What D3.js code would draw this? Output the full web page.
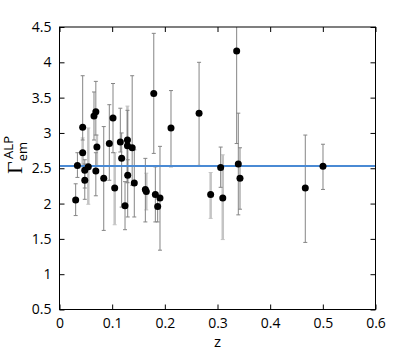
<!DOCTYPE html>
<html><head><meta charset="utf-8">
<script src="https://cdn.jsdelivr.net/npm/d3@7"></script>
<style>body{margin:0;background:#fff}svg{display:block}text{font-family:"Open Sans",sans-serif}</style>
</head><body><svg id="c" width="415" height="354"></svg>
<script>
// Series A (thin dark error bars): z, value, lower, upper
const zA   = [0.0307,0.034,0.044,0.048,0.048,0.0655,0.069,0.069,0.084,0.0946,0.1016,0.1155,0.118,0.1244,0.129,0.1295,0.138,0.142,0.163,0.179,0.182,0.1864,0.1908,0.2117,0.265,0.306,0.3364,0.3395,0.3427,0.4667,0.5003];
const vA   = [2.05,2.54,3.08,2.47,2.33,3.24,3.30,2.46,2.36,2.85,3.21,2.87,2.64,1.97,2.82,2.40,2.79,2.29,2.20,3.56,2.13,1.96,2.08,3.07,3.28,2.51,4.16,2.56,2.36,2.22,2.53];
const loA  = [1.83,2.37,2.90,2.22,2.06,2.90,2.97,2.11,1.62,2.33,2.72,2.73,1.95,1.63,2.30,1.81,2.26,1.81,1.74,2.71,1.74,1.74,1.34,2.52,2.54,2.23,2.85,1.84,1.92,1.45,2.20];
const hiA  = [2.28,2.72,3.81,2.62,2.56,3.58,3.73,2.72,3.09,3.40,3.70,3.35,3.00,2.31,3.32,2.62,3.81,2.76,2.64,4.41,2.52,2.10,2.81,3.60,4.00,2.80,5.00,3.28,2.79,2.97,2.84];
// Series B (wider light error bars)
const zB   = [0.044,0.0547,0.071,0.1048,0.129,0.1648,0.287,0.31];
const vB   = [2.72,2.52,2.80,2.22,2.90,2.17,2.13,2.08];
const loB  = [2.46,1.99,2.54,1.70,2.29,1.91,1.79,1.49];
const hiB  = [2.93,3.07,2.97,2.72,3.38,2.43,2.44,2.69];
const meanLine = 2.533;
const xTicks = [0,0.1,0.2,0.3,0.4,0.5,0.6];
const yTicks = [0.5,1,1.5,2,2.5,3,3.5,4,4.5];
const xDomain = [0,0.6], yDomain = [0.5,4.5];

const svg = d3.select("#c");
const L=59.5,R=375.5,T=27,B=309.5;
const x = d3.scaleLinear().domain(xDomain).range([L,R]);
const y = d3.scaleLinear().domain(yDomain).range([B,T]);

svg.append("defs").append("clipPath").attr("id","clip")
  .append("rect").attr("x",L).attr("y",T).attr("width",R-L).attr("height",B-T);
const g = svg.append("g").attr("clip-path","url(#clip)");

function bars(zs,vs,lo,hi,color,w,cap){
  const gg=g.append("g").attr("stroke",color).attr("stroke-width",w).attr("fill","none");
  zs.forEach((z,i)=>{
    gg.append("line").attr("x1",x(z)).attr("x2",x(z)).attr("y1",y(lo[i])).attr("y2",y(hi[i]));
    [lo[i],hi[i]].forEach(v=>gg.append("line").attr("stroke-width",1)
      .attr("x1",x(z)-cap).attr("x2",x(z)+cap).attr("y1",y(v)).attr("y2",y(v)));
  });
}
bars(zB,vB,loB,hiB,"#c4c4c4",2.5,2);
bars(zA,vA,loA,hiA,"#858585",1,2);

g.append("line").attr("x1",L).attr("x2",R).attr("y1",y(meanLine)).attr("y2",y(meanLine))
  .attr("stroke","#4a8ad4").attr("stroke-width",2);

const dots=[...zA.map((z,i)=>[z,vA[i]]),...zB.map((z,i)=>[z,vB[i]])];
g.selectAll("circle").data(dots).join("circle")
  .attr("cx",d=>x(d[0])).attr("cy",d=>y(d[1])).attr("r",3.5).attr("fill","#000");

// axes
function styleAx(a){a.select(".domain").remove();a.selectAll("line").attr("stroke","#000");
  a.selectAll("text").attr("font-size",14).attr("fill","#000").attr("font-family","'Open Sans',sans-serif");}
svg.append("g").attr("transform",`translate(0,${B})`)
  .call(d3.axisBottom(x).tickValues(xTicks).tickFormat(d3.format("~g")).tickSizeInner(-5).tickSizeOuter(0).tickPadding(9)).call(styleAx);
svg.append("g").attr("transform",`translate(0,${T})`)
  .call(d3.axisTop(x).tickValues(xTicks).tickFormat("").tickSizeInner(-5).tickSizeOuter(0)).call(styleAx);
svg.append("g").attr("transform",`translate(${L},0)`)
  .call(d3.axisLeft(y).tickValues(yTicks).tickFormat(d3.format("~g")).tickSizeInner(-5).tickSizeOuter(0).tickPadding(8)).call(styleAx);
svg.append("g").attr("transform",`translate(${R},0)`)
  .call(d3.axisRight(y).tickValues(yTicks).tickFormat("").tickSizeInner(-5).tickSizeOuter(0)).call(styleAx);
svg.append("rect").attr("x",L).attr("y",T).attr("width",R-L).attr("height",B-T)
  .attr("fill","none").attr("stroke","#000").attr("stroke-width",1);

svg.append("text").attr("x",(L+R)/2).attr("y",347).attr("text-anchor","middle")
  .attr("font-size",15).text("z");

const yl=svg.append("text").attr("transform","translate(22,155) rotate(-90)").attr("text-anchor","middle");
yl.append("tspan").attr("font-family","'Liberation Serif',serif").attr("font-size",22).text("Γ");
yl.append("tspan").attr("font-size",13).attr("dy",5).text("em");
yl.append("tspan").attr("font-size",13).attr("dx",-17).attr("dy",-14).text("ALP");
</script></body></html>
